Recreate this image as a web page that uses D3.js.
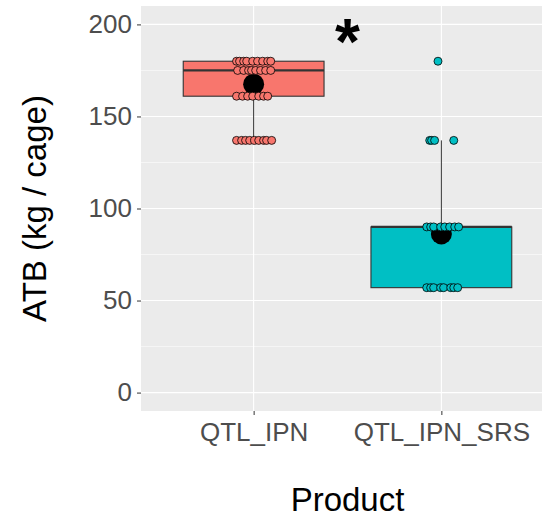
<!DOCTYPE html>
<html>
<head>
<meta charset="utf-8">
<script src="https://cdn.jsdelivr.net/npm/d3@7"></script>
<style>
  body { margin: 0; background: #fff; }
  svg { display: block; font-family: "Liberation Sans", Arial, sans-serif; }
</style>
</head>
<body>
<div id="container"></div>
<script>
// ATB per cage by product - boxplot with jittered points

const products = ["QTL_IPN", "QTL_IPN_SRS"]
const colors = ["#F8766D", "#00BFC4"]

// box statistics
const q1 = [161, 57]
const median = [175, 90]
const q3 = [180, 90]
const whiskerLow = [137, 57]
const whiskerHigh = [180, 137]
const means = [167.5, 86.2]

// individual cages: value and jitter (in category units)
const atbIPN = [180, 180, 180, 180, 180, 180, 180, 180, 180,
    175, 175, 175, 175, 175, 175, 175, 175,
    161, 161, 161, 161, 161, 161, 161,
    137, 137, 137, 137, 137, 137, 137, 137, 137]
const jitterIPN = [-0.091, -0.075, -0.053, -0.037, -0.005, 0.021, 0.048, 0.075, 0.091,
    -0.085, -0.053, -0.027, -0.011, 0.011, 0.037, 0.064, 0.091,
    -0.091, -0.059, -0.032, -0.005, 0.027, 0.053, 0.075,
    -0.091, -0.064, -0.043, -0.021, 0.005, 0.027, 0.053, 0.069, 0.096]
const atbSRS = [180,
    137, 137, 137, 137,
    90, 90, 90, 90, 90, 90, 90, 90,
    57, 57, 57, 57, 57, 57, 57, 57]
const jitterSRS = [-0.018,
    -0.062, -0.052, -0.036, 0.066,
    -0.078, -0.057, -0.041, -0.004, 0.018, 0.044, 0.071, 0.092,
    -0.078, -0.057, -0.041, -0.004, 0.012, 0.050, 0.066, 0.087]

const yTicks = [0, 50, 100, 150, 200]
const yMinor = [25, 75, 125, 175]
const signif = "*"

const width = 542,
    height = 518
const panel = { left: 141, right: 554, top: 6, bottom: 411 }

const svg = d3.select("#container")
    .append("svg")
    .attr("width", width)
    .attr("height", height)

const xScale = d3.scalePoint()
    .domain(products)
    .range([panel.left, panel.right])
    .padding(0.6)

const yScale = d3.scaleLinear()
    .domain([-10, 210])
    .range([panel.bottom, panel.top])

// panel background + grid
svg.append("rect")
    .attr("x", panel.left)
    .attr("y", panel.top)
    .attr("width", panel.right - panel.left)
    .attr("height", panel.bottom - panel.top)
    .attr("fill", "#EBEBEB")

const grid = svg.append("g").attr("id", "grid")
grid.selectAll("line.minor")
    .data(yMinor)
    .enter()
    .append("line")
    .attr("class", "minor")
    .attr("x1", panel.left).attr("x2", panel.right)
    .attr("y1", d => yScale(d)).attr("y2", d => yScale(d))
    .attr("stroke", "#fff").attr("stroke-width", 0.55)
grid.selectAll("line.major")
    .data(yTicks)
    .enter()
    .append("line")
    .attr("class", "major")
    .attr("x1", panel.left).attr("x2", panel.right)
    .attr("y1", d => yScale(d)).attr("y2", d => yScale(d))
    .attr("stroke", "#fff").attr("stroke-width", 1.1)
grid.selectAll("line.vmajor")
    .data(products)
    .enter()
    .append("line")
    .attr("class", "vmajor")
    .attr("y1", panel.top).attr("y2", panel.bottom)
    .attr("x1", d => xScale(d)).attr("x2", d => xScale(d))
    .attr("stroke", "#fff").attr("stroke-width", 1.1)

// axes
const yAxis = d3.axisLeft(yScale)
    .tickValues(yTicks)
    .tickSize(4)
    .tickPadding(5)
svg.append("g").attr("id", "y-axis")
    .attr("transform", `translate(${panel.left},0)`)
    .call(yAxis)
    .call(g => g.select(".domain").remove())
    .call(g => g.selectAll(".tick line").attr("stroke", "#333333"))
    .call(g => g.selectAll(".tick text")
        .attr("fill", "#4D4D4D")
        .attr("font-size", "26px"))

const xAxis = d3.axisBottom(xScale)
    .tickSize(4)
    .tickPadding(8)
svg.append("g").attr("id", "x-axis")
    .attr("transform", `translate(0,${panel.bottom})`)
    .call(xAxis)
    .call(g => g.select(".domain").remove())
    .call(g => g.selectAll(".tick line").attr("stroke", "#333333"))
    .call(g => g.selectAll(".tick text")
        .attr("fill", "#4D4D4D")
        .attr("font-size", "26px"))

svg.append("text")
    .attr("x", (panel.left + panel.right) / 2)
    .attr("y", 511)
    .attr("text-anchor", "middle")
    .attr("font-size", "33px")
    .attr("fill", "#000")
    .text("Product")

svg.append("text")
    .attr("transform", `translate(46,${(panel.top + panel.bottom) / 2}) rotate(-90)`)
    .attr("text-anchor", "middle")
    .attr("font-size", "33px")
    .attr("fill", "#000")
    .text("ATB (kg / cage)")

// boxplots
const bw = xScale.step() * 0.75
const boxes = products.map((p, i) => ({
    p, i, q1: q1[i], med: median[i], q3: q3[i],
    lo: whiskerLow[i], hi: whiskerHigh[i], mean: means[i]
}))

const boxG = svg.append("g").attr("id", "boxes")
boxes.forEach(b => {
    const cx = xScale(b.p)
    if (b.hi > b.q3) {
        boxG.append("line")
            .attr("x1", cx).attr("x2", cx)
            .attr("y1", yScale(b.hi)).attr("y2", yScale(b.q3))
            .attr("stroke", "#333333").attr("stroke-width", 1)
    }
    if (b.lo < b.q1) {
        boxG.append("line")
            .attr("x1", cx).attr("x2", cx)
            .attr("y1", yScale(b.q1)).attr("y2", yScale(b.lo))
            .attr("stroke", "#333333").attr("stroke-width", 1)
    }
    boxG.append("rect")
        .attr("x", cx - bw / 2)
        .attr("y", yScale(b.q3))
        .attr("width", bw)
        .attr("height", yScale(b.q1) - yScale(b.q3))
        .attr("fill", colors[b.i])
        .attr("stroke", "#333333")
        .attr("stroke-width", 1.1)
    boxG.append("line")
        .attr("x1", cx - bw / 2).attr("x2", cx + bw / 2)
        .attr("y1", yScale(b.med)).attr("y2", yScale(b.med))
        .attr("stroke", "#333333").attr("stroke-width", 2.2)
    // mean
    boxG.append("circle")
        .attr("cx", cx)
        .attr("cy", yScale(b.mean))
        .attr("r", 10.5)
        .attr("fill", "#000")
})

// jittered points
const pts = [
    ...atbIPN.map((v, k) => ({ p: products[0], i: 0, v, j: jitterIPN[k] })),
    ...atbSRS.map((v, k) => ({ p: products[1], i: 1, v, j: jitterSRS[k] }))
]
svg.append("g").attr("id", "points")
    .selectAll("circle")
    .data(pts)
    .enter()
    .append("circle")
    .attr("cx", d => xScale(d.p) + d.j * xScale.step())
    .attr("cy", d => yScale(d.v))
    .attr("r", 4)
    .attr("fill", d => colors[d.i])
    .attr("stroke", "#000")
    .attr("stroke-width", 0.8)

// significance mark
svg.append("text")
    .attr("x", (xScale(products[0]) + xScale(products[1])) / 2)
    .attr("y", 64)
    .attr("text-anchor", "middle")
    .attr("font-size", "64px")
    .attr("font-weight", "bold")
    .attr("fill", "#000")
    .text(signif)
</script>
</body>
</html>
